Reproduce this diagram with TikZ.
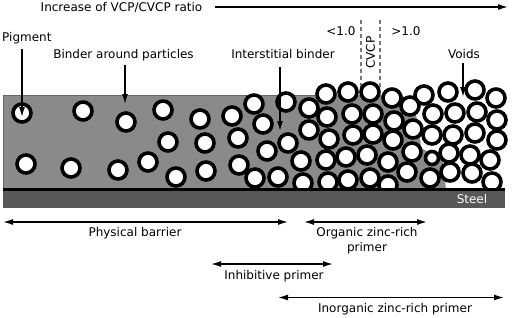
\documentclass[tikz,border=0pt]{standalone}
\usepackage{fontspec}
\setmainfont{DejaVu Sans}
\usetikzlibrary{arrows.meta}
\definecolor{bindergray}{RGB}{138,138,138}
\definecolor{steelgray}{RGB}{88,88,88}
\definecolor{dashgray}{RGB}{120,120,120}
\begin{document}
\begin{tikzpicture}[x=1pt,y=-1pt,
  part/.style={draw=black,line width=3.6pt,fill=white},
  lbl/.style={font=\fontsize{12}{14}\selectfont, inner sep=0pt, anchor=base},
  arr/.style={line width=1.4pt,-{Latex[length=10pt,width=6pt]}},
  darr/.style={line width=1.4pt,{Latex[length=10pt,width=6pt]}-{Latex[length=10pt,width=6pt]}},
  cvcpline/.style={draw=dashgray,line width=1.2pt,dash pattern=on 4pt off 3pt}]
\useasboundingbox[fill=white] (0,0) rectangle (512,317);
% binder
\fill[bindergray] (3,95) -- (402,95) -- (412,104) -- (419,125) -- (421,148) -- (443,160) -- (446,190) -- (3,190) -- cycle;
\draw[black!60,line width=0.8pt] (3,190) -- (3,95) -- (318,95);
% CVCP dashed lines
\coordinate (d1t) at (361,20); \coordinate (d1b) at (361,90);
\coordinate (d2t) at (380,20); \coordinate (d2b) at (380,90);
\draw[cvcpline] (d1t) -- (d1b);
\draw[cvcpline] (d2t) -- (d2b);
% particles
\foreach \px/\py in {22/113,83/111,126/122,163/110,200/119,232/116,168/142,205/143,238/138,
  26/164,71/168,118/170,148/162,176/177,206/171,239/165,
  254/104,286/102,309/108,326/94,263/124,309/130,327/117,288/143,267/151,301/161,326/160,
  255/178,278/177,303/183,328/182,329/139,
  348/92,370/92,392/98,424/95,352/114,373/114,394/121,410/106,
  353/135,373/134,393/140,413/129,346/157,367/155,388/162,412/152,
  348/180,370/178,388/185,407/172,
  448/92,475/90,496/98,433/114,455/113,477/112,497/120,
  432/135,453/135,475/133,497/140,449/153,470/155,490/160,
  430/178,450/172,472/173,492/182}
  \draw[part] (\px,\py) circle[radius=9pt];
\draw[part] (432,158) circle[radius=6.5pt];
% steel
\fill[steelgray] (3,191) rectangle (505,208);
\draw[black,line width=2.7pt] (3,189.7) -- (505,189.7);
\node[lbl,text=white] (steel) at (472,203) {Steel};
% top label and arrow
\node[lbl] (incr) at (121.5,11) {Increase of VCP/CVCP ratio};
\coordinate (incrA) at (215,7);
\coordinate (incrB) at (508,7);
\draw[arr] (incrA) -- (incrB);
% labels with arrows
\node[lbl,anchor=base west] (pig) at (2,41) {Pigment};
\coordinate (pigA) at (22,49); \coordinate (pigB) at (22,117);
\draw[arr] (pigA) -- (pigB);
\node[lbl] (bap) at (123.5,58) {Binder around particles};
\coordinate (bapA) at (125,65); \coordinate (bapB) at (125,104);
\draw[arr] (bapA) -- (bapB);
\node[lbl] (ib) at (283,58) {Interstitial binder};
\coordinate (ibA) at (280,67); \coordinate (ibB) at (280,131);
\draw[arr] (ibA) -- (ibB);
\node[lbl] (voids) at (464,58) {Voids};
\coordinate (vA) at (463,63); \coordinate (vB) at (463,97);
\draw[arr] (vA) -- (vB);
% CVCP labels
\node[lbl] (lt) at (341,35) {<1.0};
\node[lbl] (gt) at (406,35) {>1.0};
\node[font=\fontsize{12}{14}\selectfont, inner sep=0pt, rotate=90] (cvcp) at (370.5,52.5) {CVCP};
% bottom ranges
\coordinate (pbA) at (3,222); \coordinate (pbB) at (288,222);
\draw[darr] (pbA) -- (pbB);
\node[lbl] (pb) at (135,236.5) {Physical barrier};
\coordinate (ozA) at (304,222); \coordinate (ozB) at (427,222);
\draw[darr] (ozA) -- (ozB);
\node[lbl] (oz1) at (367,236.5) {Organic zinc-rich};
\node[lbl] (oz2) at (367,251.5) {primer};
\coordinate (ipA) at (211,264); \coordinate (ipB) at (333,264);
\draw[darr] (ipA) -- (ipB);
\node[lbl] (ip) at (274,279.5) {Inhibitive primer};
\coordinate (izA) at (278,297.5); \coordinate (izB) at (504,297.5);
\draw[darr] (izA) -- (izB);
\node[lbl] (iz) at (395,312) {Inorganic zinc-rich primer};
\end{tikzpicture}
\end{document}
